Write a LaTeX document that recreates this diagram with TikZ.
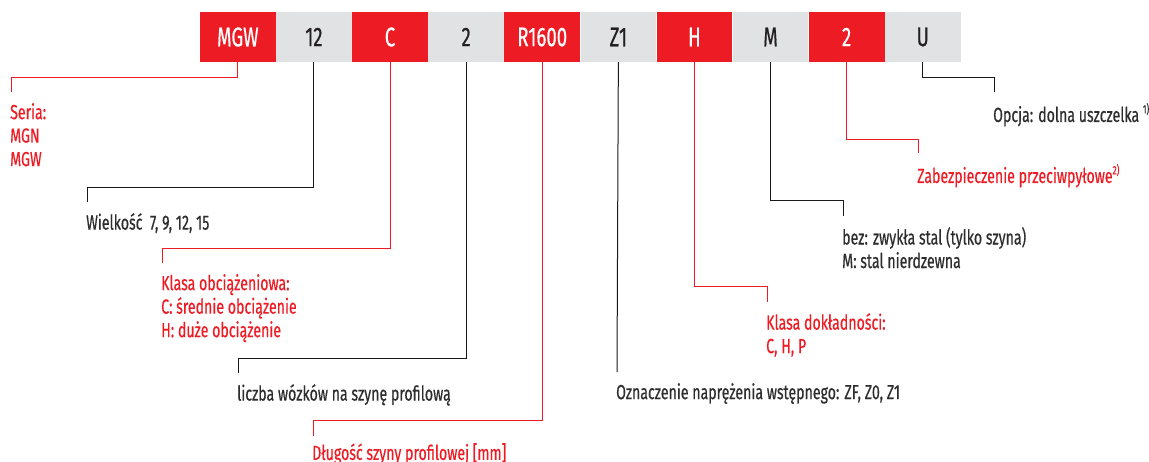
\documentclass[tikz,border=0pt]{standalone}
\usepackage{fontspec}
\setmainfont{Fira Sans}[FakeStretch=0.69,FakeBold=0.5]
\usepackage{tikz}
\usetikzlibrary{positioning}
\definecolor{codered}{RGB}{237,28,36}
\definecolor{codegrey}{RGB}{225,226,228}
\definecolor{codeink}{RGB}{35,31,32}
\definecolor{labink}{RGB}{45,45,45}
\newcommand{\supnote}[1]{\raisebox{0.8ex}{\fontsize{12}{12}\selectfont #1}}
\tikzset{
  seg/.style={rectangle,minimum width=75.7pt,minimum height=50pt,inner sep=0pt,font=\fontsize{27}{27}\selectfont},
  segr/.style={seg,fill=codered,text=white},
  segg/.style={seg,fill=codegrey,text=codeink},
  lab/.style={anchor=north west,inner sep=0pt,align=left,font=\fontsize{20.5}{23.5}\selectfont},
  labr/.style={lab,text=codered},
  labk/.style={lab,text=labink},
  % leader lines from a code segment down to its label
  leadr/.style={line width=1pt,codered},
  leadk/.style={line width=1pt,black!90},
}
\newcommand{\Knees}{%
  \coordinate (mgwk) at (11,77);   \coordinate (mgwe) at (11,92);
  \coordinate (sizek) at (87,187); \coordinate (sizee) at (87,202);
  \coordinate (loadk) at (162,248); \coordinate (loade) at (162,263);
  \coordinate (cark) at (238,358);  \coordinate (care) at (238,373);
  \coordinate (lenk) at (313,420);  \coordinate (lene) at (313,436);
  \coordinate (pree) at (617,372);
  \coordinate (acck) at (767,286);  \coordinate (acce) at (767,302);
  \coordinate (matk) at (843,200);  \coordinate (mate) at (843,216);
  \coordinate (dustk) at (918,139); \coordinate (duste) at (918,153);
  \coordinate (sealk) at (994,77);  \coordinate (seale) at (994,92);
}

\begin{document}
\begin{tikzpicture}[x=1pt,y=-1pt]
  \useasboundingbox (0,0) rectangle (1149,461);
  \Knees
  % the order code
  \node[segr] (mgw) at (237.85,37) {MGW};
  \node[segg,right=0pt of mgw] (size) {12};
  \node[segr,right=0pt of size] (load) {C};
  \node[segg,right=0pt of load] (car) {2};
  \node[segr,right=0pt of car] (len) {R1600};
  \node[segg,right=0pt of len] (pre) {Z1};
  \node[segr,right=0pt of pre] (acc) {H};
  \node[segg,right=0pt of acc] (mat) {M};
  \node[segr,right=0pt of mat] (dust) {2};
  \node[segg,right=0pt of dust] (seal) {U};
  % labels
  \node[labr] (mgwl) at ([xshift=-1pt,yshift=-11pt]mgwe) {Seria:\\MGN\\MGW};
  \node[labk] (sizel) at ([xshift=-1pt,yshift=-11pt]sizee) {Wielkość\ \ 7, 9, 12, 15};
  \node[labr] (loadl) at ([xshift=-1pt,yshift=-11pt]loade) {Klasa obciążeniowa:\\C: średnie obciążenie\\H: duże obciążenie};
  \node[labk] (carl) at ([xshift=-1pt,yshift=-11pt]care) {liczba wózków na szynę profilową};
  \node[labr] (lenl) at ([xshift=-1pt,yshift=-7pt]lene) {Długość szyny profilowej [mm]};
  \node[labk] (prel) at ([xshift=-1pt,yshift=-11pt]pree) {Oznaczenie naprężenia wstępnego: ZF, Z0, Z1};
  \node[labr] (accl) at ([xshift=-1pt,yshift=-11pt]acce) {Klasa dokładności:\\C, H, P};
  \node[labk] (matl) at ([xshift=-1pt,yshift=-11pt]mate) {bez: zwykła stal (tylko szyna)\\M: stal nierdzewna};
  \node[labr] (dustl) at ([xshift=-1pt,yshift=-11pt]duste) {Zabezpieczenie przeciwpyłowe\supnote{2)}};
  \node[labk] (seall) at ([xshift=-1pt,yshift=-11pt]seale) {Opcja: dolna uszczelka \supnote{1)}};
  % leaders
  \draw[leadr] (mgw.south) |- (mgwk) -- (mgwe);
  \draw[leadk] (size.south) |- (sizek) -- (sizee);
  \draw[leadr] (load.south) |- (loadk) -- (loade);
  \draw[leadk] (car.south) |- (cark) -- (care);
  \draw[leadr] (len.south) |- (lenk) -- (lene);
  \draw[leadk] (pre.south) -- (pree);
  \draw[leadr] (acc.south) |- (acck) -- (acce);
  \draw[leadk] (mat.south) |- (matk) -- (mate);
  \draw[leadr] (dust.south) |- (dustk) -- (duste);
  \draw[leadk] (seal.south) |- (sealk) -- (seale);
\end{tikzpicture}
\end{document}
